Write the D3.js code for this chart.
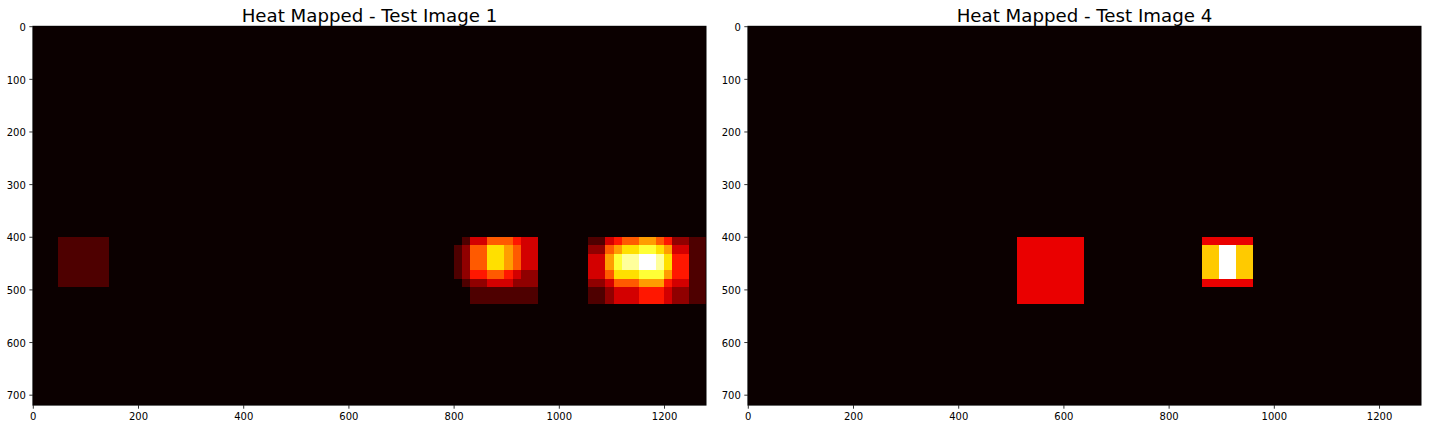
<!DOCTYPE html>
<html>
<head>
<meta charset="utf-8">
<script src="https://cdn.jsdelivr.net/npm/d3@7"></script>
<style>
  html, body { margin: 0; padding: 0; background: #fff; }
  svg { display: block; }
  text { font-family: "DejaVu Sans", sans-serif; }
</style>
</head>
<body>
<div id="container"></div>
<script>
const xTicks = [0, 200, 400, 600, 800, 1000, 1200];
const yTicks = [0, 100, 200, 300, 400, 500, 600, 700];
const imageWidth = 1280;
const imageHeight = 720;

// Test image 1 - heat counts
const title1 = "Heat Mapped - Test Image 1";
const patchA_x = [48, 144];
const patchA_y = [400, 496];
const patchA_counts = [[1]];

const patchB_x = [800, 816, 832, 864, 896, 912, 928, 960];
const patchB_y = [400, 416, 464, 480, 496, 528];
const patchB_counts = [
    [0, 1, 3, 5, 5, 4, 3],
    [1, 2, 5, 7, 6, 5, 3],
    [1, 2, 4, 5, 4, 3, 2],
    [0, 1, 2, 3, 3, 2, 2],
    [0, 0, 1, 1, 1, 1, 1]
];

const patchC_x = [1056, 1088, 1104, 1120, 1152, 1184, 1200, 1216, 1248, 1280];
const patchC_y = [400, 416, 432, 464, 480, 496, 528];
const patchC_counts = [
    [1, 3, 4, 5, 6, 5, 4, 2, 1],
    [2, 5, 6, 7, 8, 7, 6, 3, 1],
    [3, 6, 8, 9, 10, 9, 7, 4, 1],
    [3, 5, 7, 7, 8, 8, 6, 4, 1],
    [2, 3, 5, 5, 6, 6, 4, 3, 1],
    [1, 2, 3, 3, 4, 4, 3, 2, 1]
];

// Test image 4
const title2 = "Heat Mapped - Test Image 4";
const patchD_x = [512, 640];
const patchD_y = [400, 528];
const patchD_counts = [[1]];

const patchE_x = [864, 896, 928, 960];
const patchE_y = [400, 416, 480, 496];
const patchE_counts = [
    [1, 1, 1],
    [2, 3, 2],
    [1, 1, 1]
];

// matplotlib "hot" colormap
const redMap = d3.scaleLinear().domain([0, 0.365079, 1]).range([0.0416, 1, 1]);
const greenMap = d3.scaleLinear().domain([0, 0.365079, 0.746032, 1]).range([0, 0, 1, 1]);
const blueMap = d3.scaleLinear().domain([0, 0.746032, 1]).range([0, 0, 1]);
function hot(t) {
    return d3.rgb(redMap(t) * 255, greenMap(t) * 255, blueMap(t) * 255).formatRgb();
}

const width = 1431;
const height = 429;
const svg = d3.select("#container").append("svg")
    .attr("width", width)
    .attr("height", height);

function drawHeatmap(left, title, patches) {
    const top = 26.2;
    const x = d3.scaleLinear().domain([0, imageWidth]).range([left, left + 673.3]);
    const y = d3.scaleLinear().domain([0, imageHeight]).range([top, top + 379]);
    const vmax = d3.max(patches, p => d3.max(p.counts, r => d3.max(r)));
    const g = svg.append("g");

    g.append("rect")
        .attr("x", x(0))
        .attr("y", y(0))
        .attr("width", x(imageWidth) - x(0))
        .attr("height", y(imageHeight) - y(0))
        .attr("shape-rendering", "crispEdges")
        .attr("fill", hot(0));

    patches.forEach(p => {
        p.counts.forEach((row, i) => {
            row.forEach((v, j) => {
                if (v === 0) return;
                g.append("rect")
                    .attr("x", x(p.xs[j]))
                    .attr("y", y(p.ys[i]))
                    .attr("width", x(p.xs[j + 1]) - x(p.xs[j]))
                    .attr("height", y(p.ys[i + 1]) - y(p.ys[i]))
                    .attr("shape-rendering", "crispEdges")
                    .attr("fill", hot(v / vmax));
            });
        });
    });

    const xAxis = g.append("g")
        .attr("transform", `translate(0,${y(imageHeight)})`)
        .call(d3.axisBottom(x).tickValues(xTicks).tickFormat(d3.format("d")).tickSize(3.5).tickPadding(4.5));
    const yAxis = g.append("g")
        .attr("transform", `translate(${x(0)},0)`)
        .call(d3.axisLeft(y).tickValues(yTicks).tickFormat(d3.format("d")).tickSize(3.5).tickPadding(3.5));

    [xAxis, yAxis].forEach(a => {
        a.selectAll("text").attr("font-size", "10px").attr("fill", "#000")
            .style("font-family", '"DejaVu Sans", sans-serif');
        a.selectAll(".tick line").attr("stroke", "#000").attr("stroke-width", 0.8);
        a.select(".domain").remove();
    });
    yAxis.selectAll("text").attr("dy", "0.42em");

    g.append("rect")
        .attr("x", x(0))
        .attr("y", y(0))
        .attr("width", x(imageWidth) - x(0))
        .attr("height", y(imageHeight) - y(0))
        .attr("fill", "none")
        .attr("stroke", "#000")
        .attr("stroke-width", 0.8);

    g.append("text")
        .attr("x", (x(0) + x(imageWidth)) / 2)
        .attr("y", 21.5)
        .attr("text-anchor", "middle")
        .attr("font-size", "18.2px")
        .attr("fill", "#000")
        .text(title);
}

drawHeatmap(32.8, title1, [
    { xs: patchA_x, ys: patchA_y, counts: patchA_counts },
    { xs: patchB_x, ys: patchB_y, counts: patchB_counts },
    { xs: patchC_x, ys: patchC_y, counts: patchC_counts }
]);
drawHeatmap(747.8, title2, [
    { xs: patchD_x, ys: patchD_y, counts: patchD_counts },
    { xs: patchE_x, ys: patchE_y, counts: patchE_counts }
]);
</script>
</body>
</html>
